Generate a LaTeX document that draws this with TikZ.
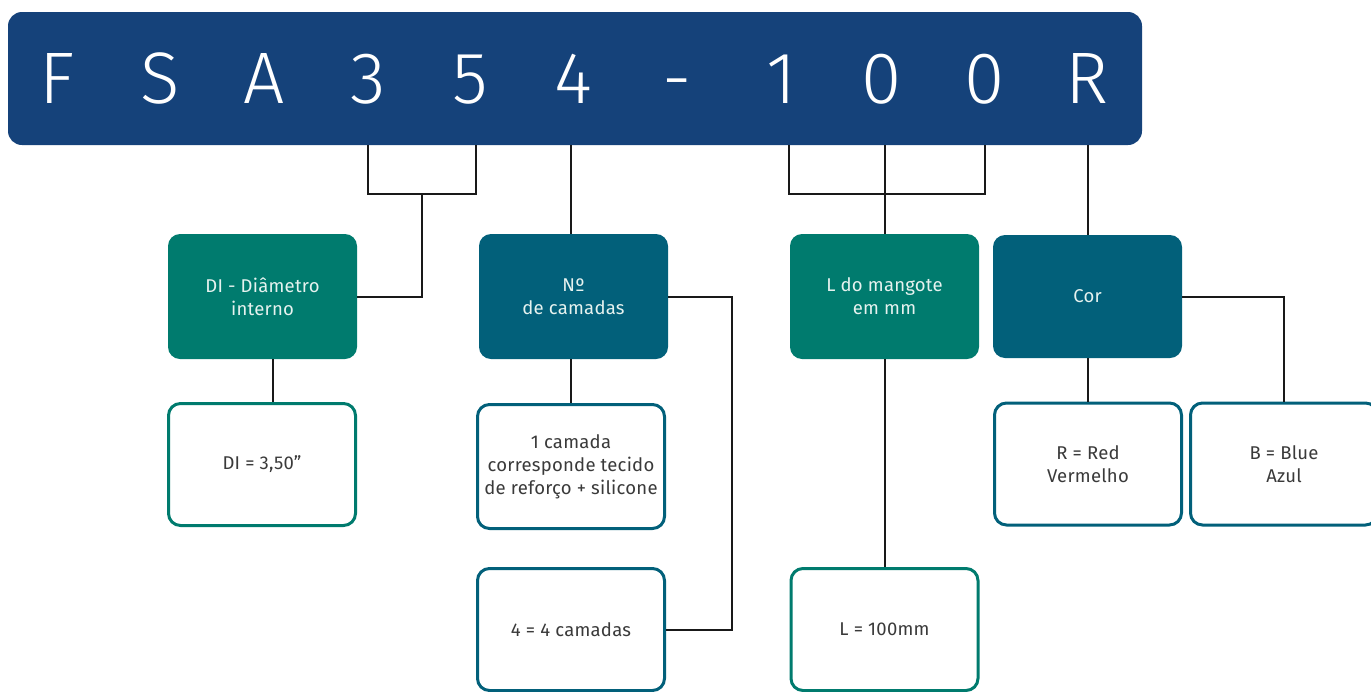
\documentclass[tikz,border=0pt]{standalone}
\usepackage{fontspec}
\setmainfont{Fira Sans}
\newfontfamily\lightfont{Fira Sans Light}
\newfontfamily\boxfont{Fira Sans}[LetterSpace=1.3]
\definecolor{navy}{HTML}{15427A}
\definecolor{grn}{HTML}{007B6E}
\definecolor{tl}{HTML}{02607A}
\definecolor{ink}{HTML}{3A3A3A}
\definecolor{lt}{HTML}{E6F2EF}
\begin{document}
\begin{tikzpicture}[x=1pt,y=-1pt,
  solidbox/.style={fill=#1, draw=none, rounded corners=12pt, minimum width=189pt, minimum height=125pt,
    text=lt, align=center, inner sep=0pt, font=\boxfont\fontsize{18.5}{23}\selectfont},
  outbox/.style={fill=white, draw=#1, line width=3pt, rounded corners=12pt, minimum width=187pt, minimum height=122pt,
    text=ink, align=center, inner sep=0pt, font=\boxfont\fontsize{18.5}{23}\selectfont},
  letter/.style={text=white, anchor=base, inner sep=0pt, font=\lightfont\fontsize{73}{80}\selectfont},
  link/.style={line width=2pt, draw=black!90}]
\useasboundingbox (0,0) rectangle (1371,691);
% header
\node[fill=navy, rounded corners=14pt, minimum width=1134pt, minimum height=133pt, inner sep=0pt] (hdr) at (575,78.5) {};
\foreach \c/\x [count=\i] in {F/57,S/160,A/264,3/368,5/470,4/573,-/677,1/782,0/882,0/985,R/1087}
  \node[letter] (h\i) at (\x,103) {\c};
% category boxes
\node[solidbox=grn] (di) at (262.5,296.5) {DI - Diâmetro\\interno};
\node[solidbox=tl] (nc) at (573.5,296.5) {Nº\\de camadas};
\node[solidbox=grn] (lm) at (884.5,296.5) {L do mangote\\em mm};
\node[solidbox=tl, minimum height=123pt] (cor) at (1087.5,296.5) {Cor};
% value boxes
\node[outbox=grn] (div) at (262,464.5) {DI = 3,50”};
\node[outbox=tl, minimum height=124pt] (c1) at (571,466.5) {1 camada\\corresponde tecido\\de reforço + silicone};
\node[outbox=tl] (c4) at (571,629.5) {4 = 4 camadas};
\node[outbox=grn] (lv) at (884.5,629.5) {L = 100mm};
\node[outbox=tl] (rv) at (1088,464) {R = Red\\Vermelho};
\node[outbox=tl] (bv) at (1284,464) {B = Blue\\Azul};
% junction coordinates
\coordinate (b1l) at (368,194);
\coordinate (b1r) at (476,194);
\coordinate (b1m) at (422,194);
\coordinate (b2l) at (789,194);
\coordinate (b2r) at (985,194);
\coordinate (nr) at (732,296);
\coordinate (dl) at (273,380);
% connectors
\draw[link] (b1l |- hdr.south) -- (b1l) -- (b1r) -- (b1r |- hdr.south);
\draw[link] (b1m) -- (b1m |- di.east) -- (di.east);
\draw[link] (c1.north |- nc.north) -- (c1.north |- hdr.south);
\draw[link] (b2l |- hdr.south) -- (b2l) -- (b2r) -- (b2r |- hdr.south);
\draw[link] (lm.north |- hdr.south) -- (lm.north);
\draw[link] (rv.north |- cor.north) -- (rv.north |- hdr.south);
\draw[link] (dl |- di.south) -- (dl |- div.north);
\draw[link] (c1.north |- nc.south) -- (c1.north);
\draw[link] (nc.east) -- (nc.east -| nr) -- (nr |- c4.east) -- (c4.east);
\draw[link] (lm.south) -- (lv.north);
\draw[link] (rv.north |- cor.south) -- (rv.north);
\draw[link] (cor.east) -- (cor.east -| bv.north) -- (bv.north);
\end{tikzpicture}
\end{document}
